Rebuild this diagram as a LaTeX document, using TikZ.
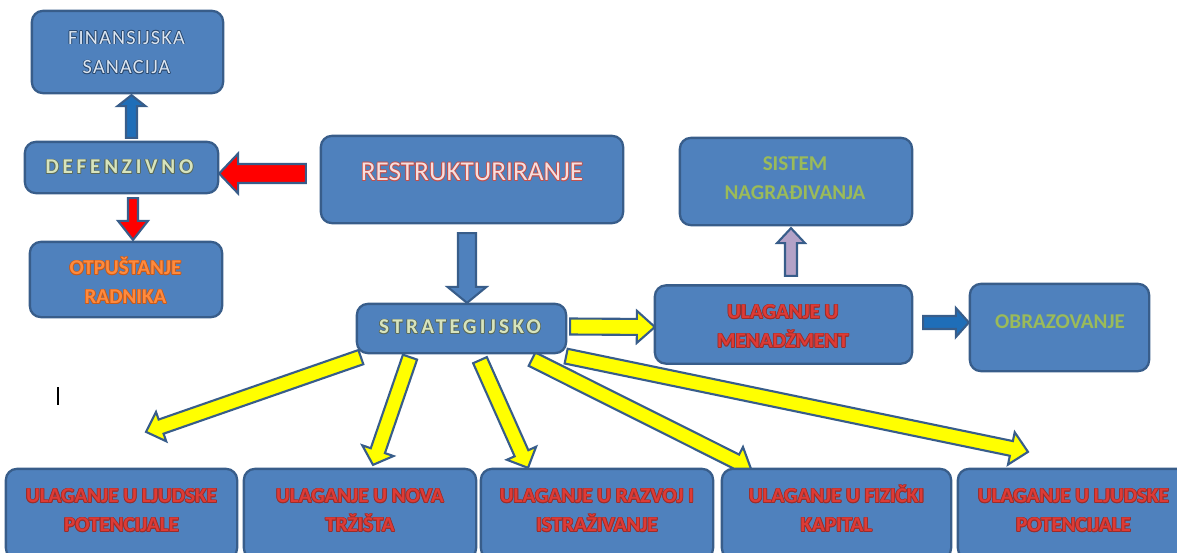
\documentclass[tikz,border=0pt]{standalone}
\usepackage{fontspec}
\setmainfont{Carlito}
\newfontfamily\defzfont[LetterSpace=18]{Carlito}
\newfontfamily\stratfont[LetterSpace=16]{Carlito}
\newfontfamily\finfont[LetterSpace=6]{Carlito}
\usetikzlibrary{calc}
\definecolor{bx}{HTML}{4F81BD}
\definecolor{bd}{HTML}{385D8A}
\definecolor{arrblue}{HTML}{1F6EB8}
\definecolor{lav}{HTML}{B3A2C7}
\definecolor{ylw}{HTML}{FFFF00}
\definecolor{redfill}{HTML}{FF0000}
\definecolor{redt}{HTML}{DD3B36}
\definecolor{redo}{HTML}{9B2D2A}
\definecolor{orat}{HTML}{FF8A3D}
\definecolor{orao}{HTML}{C85A1A}
\definecolor{grnt}{HTML}{9BBB59}
\definecolor{palet}{HTML}{DCE6F2}
\definecolor{paleo}{HTML}{2B4A70}
\definecolor{sagt}{HTML}{D7E4BD}
\definecolor{sago}{HTML}{5A6A5A}
\definecolor{pinkt}{HTML}{F7DEDD}
\definecolor{pinko}{HTML}{C0504D}

% outlined text node: #1 name, #2 position, #3 node options, #4 outline colour, #5 fill colour, #6 text
\newcommand\oltext[6]{%
  \foreach \dx/\dy [count=\k] in {0.45/0,-0.45/0,0/0.45,0/-0.45,0.32/0.32,-0.32/0.32,0.32/-0.32,-0.32/-0.32}{
    \node[#3, text=#4, xshift=\dx*1pt, yshift=\dy*1pt] (#1-\k) at (#2) {#6};
  }
  \node[#3, text=#5] (#1) at (#2) {#6};}

% block arrow: [style]{tail}{tip}{half shaft}{half head}{head length}, sizes in px
\newcommand\barrow[6][]{%
  \coordinate (hb) at ($(#3)!#6*0.02cm!(#2)$);
  \draw[arrowline,#1] ($(#2)!#4*0.02cm!90:(#3)$) -- ($(hb)!#4*0.02cm!-90:(#2)$)
    -- ($(hb)!#5*0.02cm!-90:(#2)$) -- (#3) -- ($(hb)!#5*0.02cm!90:(#2)$)
    -- ($(hb)!#4*0.02cm!90:(#2)$) -- ($(#2)!#4*0.02cm!-90:(#3)$) -- cycle;}

\tikzset{
  box/.style={draw=bd, fill=bx, line width=1.3pt, rounded corners=0.22cm, inner sep=0pt},
  arrowline/.style={draw=bd, line width=1.2pt, line join=miter},
  txt/.style={align=center, inner sep=0pt},
  boldtxt/.style={txt, font=\bfseries\fontsize{12}{16.5}\selectfont},
}

\begin{document}
\begin{tikzpicture}[x=0.02cm, y=-0.02cm]
\useasboundingbox (0,0) rectangle (1177,552);
\clip (0,0) rectangle (1177,552);

% boxes (positions; drawn later on top of arrows)
\path
  (127.5,52)  node[box, minimum width=189*0.02cm, minimum height=80*0.02cm] (fin) {}
  (121.5,167.5) node[box, minimum width=191*0.02cm, minimum height=49*0.02cm] (defz) {}
  (126,279.5) node[box, minimum width=190*0.02cm, minimum height=73*0.02cm] (otp) {}
  (472,179.5) node[box, minimum width=300*0.02cm, minimum height=85*0.02cm] (rest) {}
  (461.5,328.5) node[box, minimum width=207*0.02cm, minimum height=47*0.02cm] (strat) {}
  (796,181.5) node[box, minimum width=230*0.02cm, minimum height=85*0.02cm] (sis) {}
  (783.5,324.5) node[box, minimum width=255*0.02cm, minimum height=76*0.02cm] (men) {}
  (1059.5,327.5) node[box, minimum width=177*0.02cm, minimum height=85*0.02cm] (obr) {}
  (121.5,514) node[box, minimum width=229*0.02cm, minimum height=88*0.02cm] (b1) {}
  (360,514)   node[box, minimum width=230*0.02cm, minimum height=88*0.02cm] (b2) {}
  (597,514)   node[box, minimum width=230*0.02cm, minimum height=88*0.02cm] (b3) {}
  (836.5,514) node[box, minimum width=227*0.02cm, minimum height=88*0.02cm] (b4) {}
  (1073.5,514) node[box, minimum width=229*0.02cm, minimum height=88*0.02cm] (b5) {};

% arrow end points
\coordinate (finA) at ($(defz.north)+(10,-4)$);
\coordinate (finB) at ($(fin.south)+(4,2)$);
\coordinate (defA) at ($(rest.west)+(-15,-6)$);
\coordinate (defB) at ($(defz.east)+(1,6)$);
\coordinate (otpA) at ($(defz.south)+(11.5,5)$);
\coordinate (otpB) at ($(otp.north)+(7,-2)$);
\coordinate (strA) at ($(rest.south)+(-5,10)$);
\coordinate (strB) at ($(strat.north)+(5.5,-1)$);
\coordinate (menA) at ($(strat.east)+(4,-2)$);
\coordinate (menB) at ($(men.west)+(0,2.5)$);
\coordinate (sisA) at ($(men.north)+(7.5,-9.5)$);
\coordinate (sisB) at ($(sis.south)+(-5,3)$);
\coordinate (obrA) at ($(men.east)+(11,-2)$);
\coordinate (obrB) at ($(obr.west)+(-1,-5)$);
\coordinate (y1A) at ($(strat.south west)+(4,4)$);
\coordinate (y1B) at ($(b1.north)+(24.5,-37)$);
\coordinate (y2A) at ($(strat.south)+(-51.5,4)$);
\coordinate (y2B) at ($(b2.north)+(13,-4)$);
\coordinate (y3A) at ($(strat.south)+(18.5,7)$);
\coordinate (y3B) at ($(b3.north)+(-69,-1)$);
\coordinate (y4A) at ($(strat.south)+(70.5,6)$);
\coordinate (y4B) at ($(b4.north)+(-85.5,0)$);
\coordinate (y5A) at ($(strat.south east)+(0,3)$);
\coordinate (y5B) at ($(b5.north)+(-45.5,-17)$);

% arrows
\barrow[fill=arrblue]{finA}{finB}{5.5}{14}{11}
\barrow[fill=redfill]{defA}{defB}{9.5}{20}{19}
\barrow[fill=redfill]{otpA}{otpB}{5}{15}{19}
\barrow[fill=bx]{strA}{strB}{9}{19.5}{16}
\barrow[fill=ylw]{menA}{menB}{8}{16}{18}
\barrow[fill=lav]{sisA}{sisB}{6}{14}{15}
\barrow[fill=arrblue]{obrA}{obrB}{6.5}{14.5}{13}
\barrow[fill=ylw]{y1A}{y1B}{7.5}{15.5}{16}
\barrow[fill=ylw]{y2A}{y2B}{7.5}{16.5}{15}
\barrow[fill=ylw]{y3A}{y3B}{7.5}{16}{16}
\barrow[fill=ylw]{y4A}{y4B}{7.5}{16}{17}
\barrow[fill=ylw]{y5A}{y5B}{7.5}{16.5}{17}

% boxes on top
\foreach \n in {fin,defz,otp,rest,strat,sis,men,obr,b1,b2,b3,b4,b5}{
  \draw[box] (\n.north west) rectangle (\n.south east);
}

% texts
\oltext{finT}{126.5,53}{txt, font=\finfont\fontsize{11.5}{17}\selectfont}{paleo}{palet}
  {\strut FINANSIJSKA\\\strut SANACIJA}
\oltext{defzT}{119.5,167}{txt, font=\defzfont\bfseries\fontsize{12}{13}\selectfont}{sago}{sagt}
  {DEFENZIVNO}
\oltext{otpT}{125.5,283.5}{boldtxt}{orao}{orat}{\strut OTPUŠTANJE\\\strut RADNIKA}
\oltext{restT}{472,172}{txt, font=\fontsize{15.5}{18}\selectfont}{pinko}{pinkt}
  {RESTRUKTURIRANJE}
\oltext{stratT}{460,327}{txt, font=\stratfont\bfseries\fontsize{12}{13}\selectfont}{sago}{sagt}
  {STRATEGIJSKO}
\node[boldtxt, text=grnt] (sisT) at (795,179.5) {\strut SISTEM\\\strut NAGRAĐIVANJA};
\oltext{menT}{783,327.5}{boldtxt}{redo}{redt}{\strut ULAGANJE U\\\strut MENADŽMENT}
\node[boldtxt, text=grnt] (obrT) at (1060,322) {OBRAZOVANJE};
\oltext{b1T}{121.5,511.5}{boldtxt}{redo}{redt}{\strut ULAGANJE U LJUDSKE\\\strut POTENCIJALE}
\oltext{b2T}{360,511.5}{boldtxt}{redo}{redt}{\strut ULAGANJE U NOVA\\\strut TRŽIŠTA}
\oltext{b3T}{597,511.5}{boldtxt}{redo}{redt}{\strut ULAGANJE U RAZVOJ I\\\strut ISTRAŽIVANJE}
\oltext{b4T}{836.5,511.5}{boldtxt}{redo}{redt}{\strut ULAGANJE U FIZIČKI\\\strut KAPITAL}
\oltext{b5T}{1073.5,511.5}{boldtxt}{redo}{redt}{\strut ULAGANJE U LJUDSKE\\\strut POTENCIJALE}

% stray text cursor mark
\draw[line width=1pt] (58,387) -- (58,405);
\end{tikzpicture}
\end{document}
